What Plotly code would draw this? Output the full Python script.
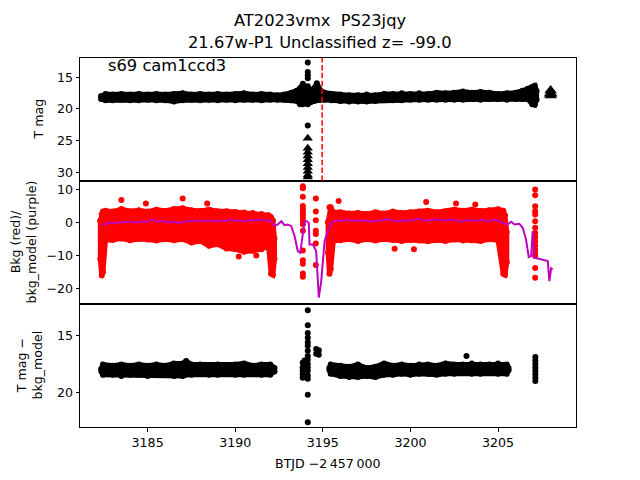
import plotly.graph_objects as go
from plotly.subplots import make_subplots

# ---------------- data ----------------
# Top panel: T mag envelope (marker centres) of the dense light-curve band
tmag_t = [3182.35, 3182.6, 3183.0, 3183.5, 3184.0, 3184.5, 3185.0, 3185.5, 3186.0, 3186.5,
          3187.0, 3187.5, 3188.0, 3188.5, 3189.0, 3189.5, 3190.0, 3190.5, 3191.0, 3191.5,
          3192.0, 3192.4, 3192.8, 3193.2, 3193.5, 3193.7, 3193.86, 3194.0, 3194.14, 3194.3,
          3194.5, 3194.66, 3194.85, 3195.1, 3195.5, 3196.0, 3196.5, 3197.0, 3197.5, 3198.0,
          3198.5, 3199.0, 3199.5, 3200.0, 3200.5, 3201.0, 3201.5, 3202.0, 3202.5, 3203.0,
          3203.5, 3204.0, 3204.5, 3205.0, 3205.5, 3206.0, 3206.4, 3206.7, 3206.95, 3207.1, 3207.2]
tmag_bright = [18.0, 17.65, 17.75, 17.65, 17.75, 17.65, 17.75, 17.65, 17.75, 17.65,
               17.55, 17.75, 17.65, 17.75, 17.65, 17.75, 17.65, 17.55, 17.75, 17.65,
               17.75, 17.85, 17.75, 17.45, 17.15, 16.75, 16.05, 17.05, 16.45, 17.35,
               16.75, 15.95, 17.05, 17.45, 17.65, 17.75, 17.85, 17.85, 17.75, 17.85,
               17.65, 17.65, 17.55, 17.65, 17.55, 17.65, 17.45, 17.55, 17.45, 17.25,
               17.45, 17.35, 17.45, 17.65, 17.55, 17.45, 17.15, 16.85, 16.55, 16.35, 17.2]
tmag_faint = [18.45, 18.65, 18.65, 18.55, 18.65, 18.65, 18.55, 18.65, 18.65, 18.85,
              18.65, 18.55, 18.65, 18.55, 18.65, 18.55, 18.65, 18.55, 18.55, 18.65,
              18.55, 18.55, 18.55, 18.65, 18.75, 19.25, 19.25, 19.05, 19.25, 18.95,
              18.75, 18.65, 18.55, 18.55, 18.65, 18.75, 18.85, 18.85, 18.85, 18.75,
              18.65, 18.65, 18.65, 18.55, 18.55, 18.55, 18.55, 18.55, 18.55, 18.55,
              18.45, 18.55, 18.45, 18.45, 18.55, 18.45, 18.45, 18.45, 19.25, 19.35, 18.55]
# isolated detections (circles) and upper limits (triangles)
spike_t = 3194.14
spike_det = [12.7, 14.2, 14.7, 15.2, 22.6]
spike_lim = [24.6, 26.2, 26.8, 27.4, 28.0, 28.6, 29.2, 29.8, 30.4, 30.7]
late_lim_t = [3208.0, 3207.97, 3208.04, 3208.0]
late_lim_mag = [17.1, 17.6, 17.6, 17.9]
vline_t = 3194.96

# Middle panel: background (red) envelopes (marker centres)
bkg1_t = [3182.3, 3182.38, 3182.45, 3182.6, 3183.0, 3183.5, 3184.0, 3184.5, 3185.0, 3185.5,
          3186.0, 3186.5, 3187.0, 3187.5, 3188.0, 3188.5, 3189.0, 3189.5, 3190.0, 3190.5,
          3191.0, 3191.5, 3191.9, 3192.05, 3192.15, 3192.24]
bkg1_hi = [0.5, 2.5, 3.3, 3.6, 3.3, 4.1, 3.4, 3.7, 3.3, 3.9,
           3.5, 4.1, 4.3, 3.7, 3.5, 3.9, 3.4, 3.4, 3.2, 3.0,
           2.9, 2.6, 2.2, 1.6, 0.6, -4.9]
bkg1_lo = [-11.1, -16.1, -15.1, -5.1, -5.3, -4.9, -5.4, -5.0, -5.2, -5.5,
           -5.1, -5.4, -5.1, -6.1, -5.6, -7.1, -6.6, -7.9, -8.1, -8.9,
           -8.6, -8.1, -7.1, -15.6, -15.9, -11.1]
bkg2_t = [3195.3, 3195.38, 3195.45, 3195.6, 3196.0, 3196.5, 3197.0, 3197.5, 3198.0, 3198.5,
          3199.0, 3199.5, 3200.0, 3200.5, 3201.0, 3201.5, 3202.0, 3202.5, 3203.0, 3203.5,
          3204.0, 3204.5, 3205.0, 3205.3, 3205.4, 3205.5]
bkg2_hi = [0.1, 4.6, 4.6, 3.1, 3.1, 2.7, 2.9, 2.6, 3.1, 2.7,
           3.3, 2.9, 3.1, 3.3, 3.6, 3.1, 3.4, 3.9, 3.6, 3.9,
           3.5, 3.7, 4.0, 3.6, 2.1, -2.9]
bkg2_lo = [-9.1, -15.6, -14.1, -5.6, -5.4, -5.1, -5.6, -5.1, -5.5, -5.1,
           -5.3, -5.6, -5.3, -5.5, -5.7, -5.3, -5.6, -5.2, -5.5, -5.4,
           -5.6, -5.1, -5.4, -15.6, -15.9, -12.1]
bkg_pts_t = [3183.5, 3187.0, 3184.9, 3188.4, 3190.2, 3191.2,
             3195.9, 3200.9, 3202.6, 3203.7, 3200.2, 3199.1]
bkg_pts_v = [6.8, 7.3, 5.8, 5.8, -10.3, -10.0,
             6.5, 6.2, 5.8, 5.5, -8.1, -8.0]
bkg_colA_t = 3193.86
bkg_colA_v = [11.0, 10.4, 7.8, 5.0, 4.2, 3.3, 2.4, 1.5, 0.6, -0.5, -2.5, -8.5, -11.5, -12.5, -15.5, -16.5]
bkg_colB_t = 3194.6
bkg_colB_v = [7.3, 3.3, 0.7, -2.5, -3.5, -6.4, -12.9]
bkg_colC_t = 3207.12
bkg_colC_v = [10.0, 8.3, 4.9, 3.4, 2.4, 0.4, -1.6, -3.2, -4.5, -5.8, -7.0, -8.3, -9.5, -10.2, -13.8, -16.8]

# Middle panel: background model (purple)
model_t = [3182.35, 3182.6, 3182.9, 3183.2, 3183.5, 3183.8, 3184.1, 3184.4, 3184.7, 3185.0,
           3185.2, 3185.5, 3185.8, 3186.1, 3186.4, 3186.7, 3187.0, 3187.3, 3187.6, 3187.9,
           3188.2, 3188.5, 3188.8, 3189.1, 3189.4, 3189.7, 3190.0, 3190.3, 3190.6, 3190.9,
           3191.2, 3191.5, 3191.8, 3192.0, 3192.24, 3192.43, 3192.63, 3192.81, 3193.0, 3193.2,
           3193.39, 3193.57, 3193.71, 3193.86, 3193.96, 3194.1, 3194.2, 3194.24, 3194.43, 3194.62,
           3194.77, 3194.91, 3195.1, 3195.29, 3195.48, 3195.76, 3196.0, 3196.33, 3196.6, 3196.9,
           3197.2, 3197.5, 3197.8, 3198.1, 3198.4, 3198.7, 3199.0, 3199.3, 3199.6, 3199.9,
           3200.2, 3200.5, 3200.8, 3201.1, 3201.4, 3201.7, 3202.0, 3202.3, 3202.6, 3202.9,
           3203.2, 3203.5, 3203.8, 3204.1, 3204.4, 3204.7, 3205.0, 3205.27, 3205.55, 3205.75,
           3205.94, 3206.22, 3206.41, 3206.6, 3206.75, 3206.89, 3206.98, 3207.08, 3207.84, 3207.93,
           3208.03, 3208.12]
model_v = [-0.8, -0.5, 0.0, -0.3, 0.2, 0.0, 0.3, -0.1, 0.4, 0.1,
           1.0, 0.2, 0.5, 0.0, 0.3, -0.2, 0.2, 0.5, 0.3, 0.6,
           0.4, 0.7, 0.3, 0.6, 0.4, 0.9, 0.5, 0.7, 0.3, 0.8,
           0.6, 0.8, 0.5, 0.6, -1.1, -0.6, 0.4, -0.8, -0.6, -1.1,
           -4.2, -8.7, -9.2, -4.2, 0.4, 0.4, -0.2, -6.7, -6.7, -8.7,
           -22.8, -17.8, -5.7, -2.6, -0.1, 0.6, 0.4, 0.9, 0.5, 0.7,
           0.4, 0.6, 0.3, 0.5, 0.7, 1.0, 0.6, 0.3, 0.6, 0.5,
           0.8, 1.2, 0.5, 0.7, 0.9, 0.8, 0.6, 0.9, 0.7, 0.1,
           0.8, 0.6, 0.5, 0.8, 0.3, 0.8, 0.6, -0.1, -0.6, 0.2,
           -0.6, -0.4, -1.6, -5.2, -10.5, -10.2, -2.6, -10.7, -11.7, -17.8,
           -13.9, -14.2]

# Bottom panel: T mag - bkg_model envelopes (marker centres)
sub1_t = [3182.36, 3182.45, 3183.0, 3183.5, 3184.0, 3184.5, 3185.0, 3185.5, 3186.0, 3186.5,
          3187.0, 3187.2, 3187.5, 3188.0, 3188.5, 3189.0, 3189.5, 3190.0, 3190.5, 3191.0,
          3191.5, 3192.0, 3192.24]
sub1_hi = [17.95, 17.55, 17.65, 17.55, 17.65, 17.55, 17.65, 17.55, 17.65, 17.45,
           17.45, 17.25, 17.55, 17.55, 17.65, 17.55, 17.65, 17.55, 17.45, 17.65,
           17.55, 17.55, 17.85]
sub1_lo = [18.15, 18.45, 18.45, 18.55, 18.45, 18.45, 18.55, 18.45, 18.45, 18.55,
           18.55, 18.45, 18.45, 18.35, 18.45, 18.45, 18.35, 18.45, 18.45, 18.35,
           18.45, 18.45, 18.15]
sub2_t = [3195.38, 3195.45, 3196.0, 3196.5, 3197.0, 3197.5, 3198.0, 3198.5, 3199.0, 3199.5,
          3200.0, 3200.5, 3201.0, 3201.5, 3202.0, 3202.5, 3203.0, 3203.5, 3204.0, 3204.5,
          3205.0, 3205.5, 3205.6]
sub2_hi = [17.85, 17.55, 17.65, 17.75, 17.55, 17.85, 17.75, 17.45, 17.65, 17.55,
           17.65, 17.55, 17.55, 17.65, 17.45, 17.55, 17.55, 17.45, 17.55, 17.55,
           17.45, 17.55, 17.85]
sub2_lo = [18.05, 18.35, 18.55, 18.65, 18.65, 18.55, 18.65, 18.45, 18.45, 18.35,
           18.45, 18.35, 18.35, 18.45, 18.35, 18.35, 18.25, 18.35, 18.35, 18.25,
           18.35, 18.35, 18.05]
sub_pts_t = [3194.14] * 16 + [3193.85] * 5 + [3193.95] * 3 + [3194.62, 3194.62, 3194.77, 3194.77] \
            + [3207.13] * 8 + [3203.2]
sub_pts_v = [12.8, 14.1, 14.8, 15.2, 15.6, 15.9, 16.35, 16.8, 17.1, 17.5, 17.8, 18.1, 18.5, 18.8, 20.2, 22.6,
             17.4, 17.8, 18.1, 18.4, 18.7,
             17.2, 18.0, 18.6,
             16.2, 16.6, 16.3, 16.7,
             16.9, 17.2, 17.5, 17.8, 18.1, 18.4, 18.7, 19.0,
             16.8]

x_ticks = [3185, 3190, 3195, 3200, 3205]
title_line1 = "AT2023vmx  PS23jqy"
title_line2 = "21.67w-P1 Unclassified z= -99.0"
field_label = "s69 cam1ccd3"

# ---------------- figure ----------------
FONT = "DejaVu Sans"
BLACK, RED, PURPLE = "#000000", "#ff0000", "#bf00bf"

fig = make_subplots(rows=3, cols=1, shared_xaxes=True, vertical_spacing=0)


def band(t, a, b, color, row, size=6):
    xs = list(t) + list(t[::-1]) + [t[0]]
    ys = list(a) + list(b[::-1]) + [a[0]]
    fig.add_trace(go.Scatter(x=xs, y=ys, mode="lines+markers", fill="toself",
                             fillcolor=color, line=dict(color=color, width=5),
                             marker=dict(color=color, size=size), hoverinfo="skip"),
                  row=row, col=1)


# top panel
band(tmag_t, tmag_bright, tmag_faint, BLACK, 1)
fig.add_trace(go.Scatter(x=[spike_t] * len(spike_det), y=spike_det, mode="markers",
                         marker=dict(color=BLACK, size=6)), row=1, col=1)
fig.add_trace(go.Scatter(x=[spike_t] * len(spike_lim), y=spike_lim, mode="markers",
                         marker=dict(color=BLACK, size=9, symbol="triangle-up")), row=1, col=1)
fig.add_trace(go.Scatter(x=late_lim_t, y=late_lim_mag, mode="markers",
                         marker=dict(color=BLACK, size=11, symbol="triangle-up")), row=1, col=1)

# middle panel
band(bkg1_t, bkg1_hi, bkg1_lo, RED, 2)
band(bkg2_t, bkg2_hi, bkg2_lo, RED, 2)
fig.add_trace(go.Scatter(x=bkg_pts_t, y=bkg_pts_v, mode="markers",
                         marker=dict(color=RED, size=6)), row=2, col=1)
for ct, cv in [(bkg_colA_t, bkg_colA_v), (bkg_colB_t, bkg_colB_v), (bkg_colC_t, bkg_colC_v)]:
    fig.add_trace(go.Scatter(x=[ct] * len(cv), y=cv, mode="markers",
                             marker=dict(color=RED, size=6)), row=2, col=1)
fig.add_trace(go.Scatter(x=model_t, y=model_v, mode="lines",
                         line=dict(color=PURPLE, width=2)), row=2, col=1)

# bottom panel
band(sub1_t, sub1_hi, sub1_lo, BLACK, 3)
band(sub2_t, sub2_hi, sub2_lo, BLACK, 3)
fig.add_trace(go.Scatter(x=sub_pts_t, y=sub_pts_v, mode="markers",
                         marker=dict(color=BLACK, size=6)), row=3, col=1)

# dashed vertical marker in top panel
fig.add_shape(type="line", x0=vline_t, x1=vline_t, xref="x", y0=0, y1=1, yref="y domain",
              line=dict(color=RED, width=1.5, dash="5.5px,2.4px"))

axis_common = dict(showline=True, mirror=True, linecolor="black", linewidth=1,
                   showgrid=False, zeroline=False,
                   tickfont=dict(family=FONT, size=12.6, color="black"),
                   ticklen=3.5, tickwidth=1, tickcolor="black")
xr = [3181.14, 3209.45]
fig.update_xaxes(range=xr, **axis_common)
fig.update_xaxes(ticks="", showticklabels=False, row=1, col=1)
fig.update_xaxes(ticks="", showticklabels=False, row=2, col=1)
fig.update_xaxes(ticks="outside", tickvals=x_ticks, showticklabels=True, row=3, col=1)

fig.update_yaxes(ticks="outside", **axis_common)
fig.update_yaxes(range=[31.33, 12.0], tickvals=[15, 20, 25, 30], row=1, col=1)
fig.update_yaxes(range=[-24.76, 12.6], tickvals=[10, 0, -10, -20], row=2, col=1)
fig.update_yaxes(range=[23.02, 12.25], tickvals=[15, 20], row=3, col=1)

# the page body adds an 8px offset; plot area targets page px 80..576 x 58..427
OFF = 8
W, H = 640, 480
L, T = 80 - OFF, 58 - OFF
R = W - (576 - OFF)
B = H - (427 - OFF)
pw, ph = W - L - R, H - T - B


def px(xp):
    return (xp - OFF - L) / pw


def py(yp):
    return (H - B - (yp - OFF)) / ph


ann = []
tf = dict(family=FONT, size=16.3, color="black")
lf = dict(family=FONT, size=12.6, color="black")
ann.append(dict(text=title_line1, x=px(320), y=py(20.7), font=tf))
ann.append(dict(text=title_line2, x=px(320), y=py(42.7), font=tf))
ann.append(dict(text=field_label, x=px(105.5), y=py(65), xanchor="left", font=tf))
ann.append(dict(text="T mag", x=px(38), y=py(119.5), textangle=-90, font=lf))
ann.append(dict(text="Bkg (red)/<br>bkg_model (purple)", x=px(23), y=py(242.5), textangle=-90, font=lf))
ann.append(dict(text="T mag \u2212<br>bkg_model", x=px(29), y=py(365.5), textangle=-90, font=lf))
ann.append(dict(text="BTJD \u22122\u2009457\u2009000", x=px(327.5), y=py(463), font=lf))
for a in ann:
    a.setdefault("xanchor", "center")
    a.update(xref="paper", yref="paper", yanchor="middle", showarrow=False)

fig.update_layout(width=W, height=H, margin=dict(l=L, r=R, t=T, b=B),
                  paper_bgcolor="white", plot_bgcolor="white", showlegend=False,
                  annotations=ann, font=dict(family=FONT))

fig.write_html("out.html")
